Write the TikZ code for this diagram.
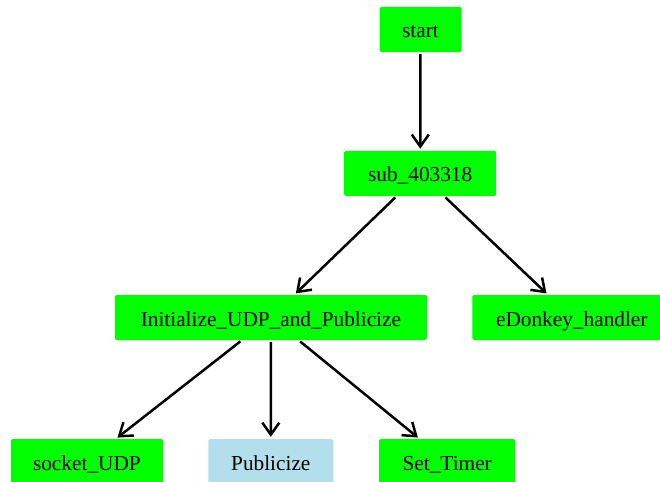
\documentclass[tikz,border=0pt]{standalone}
\usepackage{fontspec}
\setmainfont{Liberation Serif}
\usetikzlibrary{arrows.meta}
\definecolor{boxgreen}{HTML}{00FF00}
\definecolor{boxblue}{HTML}{B3DEEB}
\tikzset{
  fn/.style={fill=boxgreen, rounded corners=1.5pt, minimum height=45pt,
             inner sep=0pt, text height=17pt, text depth=0pt,
             font=\fontsize{21.3}{24}\selectfont},
  fnalt/.style={fn, fill=boxblue},
  call/.style={line width=2.5pt, shorten <=2pt, shorten >=2pt,
               -{Straight Barb[length=12pt, width=17pt]}}
}
\begin{document}
\begin{tikzpicture}[x=1pt, y=-1pt]
  \useasboundingbox (0,0) rectangle (660,481);

  % call graph nodes
  \node[fn, minimum width=82pt]  (start)  at (420.5,29.5)  {start};
  \node[fn, minimum width=152pt] (sub)    at (420.2,173.4) {sub\_403318};
  \node[fn, minimum width=312pt] (init)   at (270.9,317.5) {Initialize\_UDP\_and\_Publicize};
  \node[fn, minimum width=199pt] (edk)    at (571.8,317.5) {eDonkey\_handler};
  \node[fn, minimum width=152pt] (sock)   at (86.9,461.5)  {socket\_UDP};
  \node[fnalt, minimum width=125pt] (pub) at (270.8,461.5) {Publicize};
  \node[fn, minimum width=136pt] (timer)  at (447.2,461.5) {Set\_Timer};

  % calls
  \draw[call] (start) -- (sub);
  \draw[call] (sub) -- (init);
  \draw[call] (sub) -- (edk);
  \draw[call] (init) -- (sock);
  \draw[call] (init) -- (pub);
  \draw[call] (init) -- (timer);
\end{tikzpicture}
\end{document}
